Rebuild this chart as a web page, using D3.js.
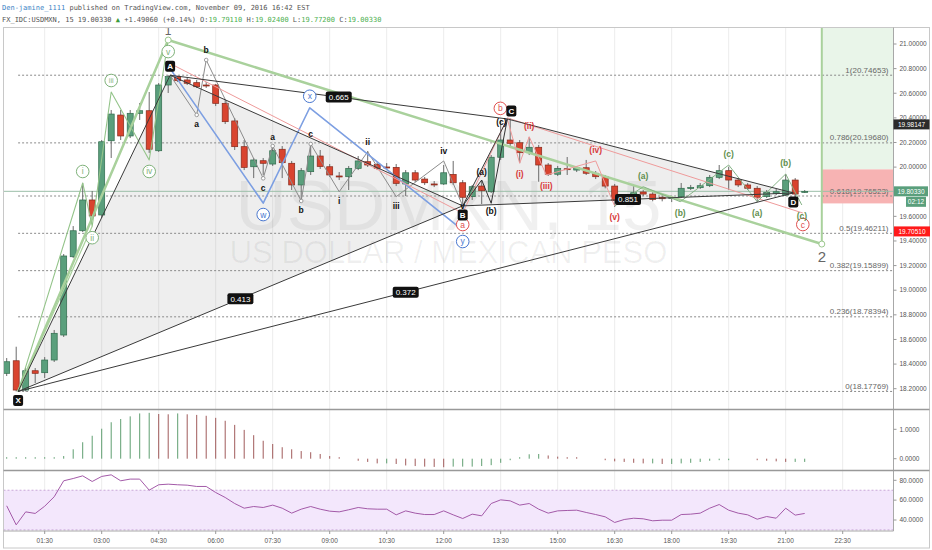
<!DOCTYPE html>
<html><head><meta charset="utf-8">
<script src="https://cdnjs.cloudflare.com/ajax/libs/d3/7.8.5/d3.min.js"></script>
<style>html,body{margin:0;padding:0;background:#fff;}svg{display:block;}text{white-space:pre;}</style>
</head><body>
<svg id="chart" width="932" height="550"></svg>
<script>
// ---------------- DATA ----------------
const timeTickLabels=["01:30","03:00","04:30","06:00","07:30","09:00","10:30","12:00","13:30","15:00","16:30","18:00","19:30","21:00","22:30"];
const timeTickBars=[4,10,16,22,28,34,40,46,52,58,64,70,76,82,88];
const priceTicks=[18.2,18.4,18.6,18.8,19.0,19.2,19.4,19.6,19.8,20.0,20.2,20.4,20.6,20.8,21.0];
const opens=[18.325,18.427,18.189,18.346,18.330,18.433,18.636,19.272,19.483,19.733,19.611,20.214,20.423,20.253,20.437,20.458,20.133,20.667,20.734,20.708,20.686,20.667,20.667,20.518,20.375,20.166,20.003,20.052,20.025,20.145,20.031,19.855,19.963,20.090,20.003,19.928,19.922,19.990,20.044,20.023,20.001,19.998,19.863,19.954,19.903,19.863,19.863,19.941,19.873,19.760,19.846,19.800,20.080,20.220,20.198,20.117,20.161,20.017,19.942,19.987,19.976,19.995,19.950,19.922,19.846,19.719,19.760,19.798,19.781,19.755,19.747,19.760,19.828,19.833,19.849,19.917,19.971,19.895,19.855,19.828,19.760,19.787,19.773,19.895,19.798];
const highs=[18.449,18.541,18.368,18.368,18.457,18.677,19.294,19.521,19.871,19.806,20.220,20.464,20.464,20.464,20.521,20.610,20.683,20.747,20.740,20.724,20.708,20.691,20.675,20.545,20.399,20.220,20.074,20.074,20.171,20.171,20.050,19.993,20.180,20.139,20.025,19.960,20.009,20.090,20.131,20.041,20.033,20.025,19.976,19.976,19.920,19.887,20.017,20.050,19.895,19.855,19.895,20.098,20.380,20.396,20.220,20.244,20.180,20.033,20.009,20.082,20.009,20.058,19.968,19.936,19.863,19.781,19.846,19.814,19.798,19.773,19.765,19.871,19.855,19.871,19.936,20.017,20.003,19.911,19.871,19.846,19.814,19.822,19.944,19.911,19.814];
const lows=[18.303,18.178,18.178,18.246,18.287,18.417,18.620,19.262,19.473,19.570,19.587,20.074,20.220,20.236,20.383,20.115,20.123,20.602,20.691,20.667,20.643,20.643,20.496,20.350,20.139,19.976,19.911,19.936,20.009,19.911,19.814,19.733,19.936,19.985,19.920,19.895,19.814,19.976,20.001,19.976,19.976,19.846,19.765,19.879,19.855,19.838,19.855,19.855,19.684,19.733,19.700,19.790,20.058,20.163,20.033,20.098,19.881,19.928,19.928,19.936,19.960,19.936,19.903,19.828,19.676,19.700,19.749,19.765,19.722,19.722,19.716,19.749,19.814,19.822,19.838,19.903,19.814,19.838,19.814,19.716,19.749,19.773,19.765,19.692,19.790];
const closes=[18.419,18.189,18.346,18.325,18.433,18.650,19.278,19.483,19.733,19.603,20.206,20.431,20.253,20.437,20.458,20.145,20.667,20.735,20.702,20.681,20.653,20.664,20.518,20.369,20.166,19.998,20.058,20.031,20.133,20.036,19.855,19.971,20.090,20.005,19.936,19.926,19.990,20.050,20.017,19.990,20.000,19.868,19.954,19.895,19.873,19.862,19.954,19.873,19.755,19.841,19.808,20.080,20.220,20.193,20.117,20.161,20.017,19.942,19.990,19.986,19.995,19.950,19.922,19.846,19.729,19.765,19.792,19.781,19.738,19.743,19.753,19.828,19.834,19.849,19.917,19.971,19.895,19.855,19.828,19.755,19.795,19.800,19.895,19.781,19.803];
const histValues=[0.01,0.01,0.01,0.01,0.01,0.02,0.09,0.32,0.56,0.78,1.02,1.24,1.35,1.44,1.54,1.56,1.52,1.51,1.54,1.51,1.49,1.46,1.39,1.29,1.15,0.98,0.80,0.61,0.50,0.39,0.32,0.26,0.22,0.16,0.09,0.05,0,-0.07,-0.11,-0.16,-0.16,-0.18,-0.23,-0.25,-0.27,-0.28,-0.29,-0.27,-0.27,-0.27,-0.25,-0.22,-0.14,-0.02,0.02,0.15,0.16,0.11,0.07,0.05,0.02,0,0,-0.05,-0.09,-0.11,-0.14,-0.16,-0.16,-0.18,-0.18,-0.16,-0.14,-0.11,-0.07,-0.05,-0.02,0,0,-0.02,-0.07,-0.09,-0.11,-0.11,-0.11];
const rsiValues=[54.3,35.1,48.2,46.6,53.9,63.4,79.5,81.8,84.5,78.8,83.9,85.5,79.5,81.2,81.2,70.1,75.5,76.1,75.5,75.1,73.8,73.8,67.7,62.7,56.6,51.9,53.6,52.6,55.0,51.9,46.9,50.9,53.6,50.9,48.9,48.2,50.3,52.6,51.3,50.9,50.9,45.2,49.2,46.9,45.5,45.5,49.2,45.2,41.5,45.9,44.2,56.6,60.3,59.3,55.0,56.6,50.9,46.9,49.2,49.6,49.9,47.6,45.5,43.2,37.5,40.5,41.8,41.2,39.2,39.8,39.8,45.5,45.9,46.9,51.9,55.6,49.9,46.9,45.2,40.8,43.5,41.8,51.9,44.9,46.6];
const histTicks=[0,1];
const rsiTicks=[40,60,80];
const fibLevels=[[1,20.74653],[0.786,20.19680],[0.618,19.76523],[0.5,19.46211],[0.382,19.15899],[0.236,18.78394],[0,18.17769]];
// harmonic XABCD pattern (bar index, price)
const harmonic=[{n:"X",i:1.2,p:18.1777,pos:"below"},{n:"A",i:17.2,p:20.7465,pos:"above"},{n:"B",i:48,p:19.685,pos:"below"},{n:"C",i:52.7,p:20.391,pos:"aboveR"},{n:"D",i:82.8,p:19.790,pos:"below"}];
const harmonicRatios=[["X","B","0.413"],["A","C","0.665"],["X","D","0.372"],["B","D","0.851"]];
// Elliott wave drawings
const wavePrimary=[{i:1.2,p:18.1777},{i:17,p:21.032,l:"1",pos:"above"},{i:85.8,p:19.375,l:"2",pos:"below"}];
const waveGreenSub=[{i:1.2,p:18.1777},{i:8,p:19.871,l:"i",pos:"above"},{i:9,p:19.52,l:"ii",pos:"below"},{i:11,p:20.61,l:"iii",pos:"above"},{i:15,p:20.058,l:"iv",pos:"below"},{i:17,p:21.032,l:"v",pos:"below"}];
const waveBlue=[{i:17.2,p:20.80},{i:27,p:19.708,l:"w",pos:"below"},{i:31.9,p:20.482,l:"x",pos:"above"},{i:48,p:19.489,l:"y",pos:"below"}];
const waveGray1=[{i:17.2,p:20.7465},{i:20,p:20.424,l:"a",pos:"below"},{i:21,p:20.870,l:"b",pos:"above"},{i:27,p:19.909,l:"c",pos:"below"}];
const waveGray2=[{i:27,p:19.909},{i:28,p:20.171,l:"a",pos:"above"},{i:31,p:19.725,l:"b",pos:"below"},{i:32,p:20.188,l:"c",pos:"above"}];
const waveGray3=[{i:32,p:20.188},{i:35,p:19.800,l:"i",pos:"below"},{i:38,p:20.125,l:"ii",pos:"above"},{i:41,p:19.760,l:"iii",pos:"below"},{i:46,p:20.050,l:"iv",pos:"above"},{i:48,p:19.685,l:"v",pos:"at"}];
const waveBlackABC=[{i:48,p:19.685},{i:50,p:19.895,l:"(a)",pos:"above"},{i:51,p:19.706,l:"(b)",pos:"below"},{i:52.7,p:20.391,l:"(c)",pos:"left"}];
const waveRedImpulse=[{i:52.7,p:20.391},{i:54,p:20.031,l:"(i)",pos:"below"},{i:55,p:20.247,l:"(ii)",pos:"above"},{i:56.8,p:19.936,l:"(iii)",pos:"below"},{i:62,p:20.050,l:"(iv)",pos:"above"},{i:64,p:19.684,l:"(v)",pos:"below"}];
const waveRedABC=[{i:17.5,p:20.83},{i:48,p:19.627,l:"a",pos:"below"},{i:52.7,p:20.40,l:"b",pos:"aboveL"},{i:83.8,p:19.627,l:"c",pos:"below"}];
const waveGreenABC=[{i:64,p:19.684},{i:67,p:19.841,l:"(a)",pos:"above"},{i:70.9,p:19.719,l:"(b)",pos:"below"},{i:76,p:20.017,l:"(c)",pos:"above"},{i:79,p:19.719,l:"(a)",pos:"below"},{i:82,p:19.944,l:"(b)",pos:"above"},{i:83.7,p:19.692,l:"(c)",pos:"below"}];
const longEntry=19.98147, longStop=19.70510, longStartBar=85.8;
const lastPrice=19.80330, countdown="02:12";
const headerUser="Den-jamine_1111";
const headerLine1=" published on TradingView.com, November 09, 2016 16:42 EST";
const headerLine2=[["FX_IDC:USDMXN, 15 19.00330 ","#555"],["\u25B2","#3a9a3a"],[" +1.49060 (+0.14%) O:","#555"],["19.79110","#4caf50"],[" H:","#555"],["19.02400","#4caf50"],[" L:","#555"],["19.77200","#4caf50"],[" C:","#555"],["19.00330","#4caf50"]];
const watermark1="USDMXN, 15", watermark2="US DOLLAR / MEXICAN PESO";

// ---------------- LAYOUT ----------------
const svg=d3.select('#chart');
const sans='"Liberation Sans", Arial, sans-serif';
const mono='"DejaVu Sans Mono","Liberation Mono",monospace';
const L=3.5,R=893.5,T=27.5,MB=409.5,P1B=470.5,P2B=531,BOT=548,RR=929.5;
const x=d3.scaleLinear().domain([0,88]).range([6.7,842.7]);
const y=d3.scaleLinear().domain([18.2,21]).range([388.7,44]);
const yH=d3.scaleLinear().domain([0,1]).range([458.7,429.3]);
const yR=d3.scaleLinear().domain([40,80]).range([520,480.3]);

svg.append('rect').attr('width',932).attr('height',550).attr('fill','#fff');
const defs=svg.append('defs');
defs.append('clipPath').attr('id','cm').append('rect').attr('x',L).attr('y',T).attr('width',R-L).attr('height',MB-T);
defs.append('clipPath').attr('id','c2').append('rect').attr('x',L).attr('y',P1B).attr('width',R-L).attr('height',P2B-P1B);

// header
const hdr=svg.append('g').attr('font-family',mono).attr('font-size',7);
const t1=hdr.append('text').attr('x',2).attr('y',10);
t1.append('tspan').attr('fill','#3d85c6').text(headerUser);
t1.append('tspan').attr('fill','#555').text(headerLine1);
const t2=hdr.append('text').attr('x',2).attr('y',21.5);
headerLine2.forEach(([s,c])=>t2.append('tspan').attr('fill',c).text(s));

// vertical grid
const grid=svg.append('g');
timeTickBars.forEach(b=>grid.append('line').attr('x1',x(b)).attr('x2',x(b)).attr('y1',T).attr('y2',P2B).attr('stroke','#ececec').attr('stroke-width',1));

const main=svg.append('g').attr('clip-path','url(#cm)');
const cx=(L+R)/2;
main.append('text').attr('x',cx).attr('y',230).attr('text-anchor','middle').attr('font-family',sans).attr('font-size',71).attr('fill','#000').attr('fill-opacity',0.06).text(watermark1);
main.append('text').attr('x',cx).attr('y',263).attr('text-anchor','middle').attr('font-family',sans).attr('font-size',31).attr('fill','#000').attr('fill-opacity',0.06).text(watermark2);

// long position boxes
const xl=x(longStartBar);
main.append('rect').attr('x',xl).attr('y',T).attr('width',R-xl).attr('height',y(longEntry)-T).attr('fill','#e9f5e9');
main.append('rect').attr('x',xl).attr('y',y(longEntry)).attr('width',R-xl).attr('height',y(longStop)-y(longEntry)).attr('fill','#f7b3b3');

// shaded harmonic triangles
const H=Object.fromEntries(harmonic.map(d=>[d.n,d]));
const poly=pts=>pts.map(n=>[x(H[n].i),y(H[n].p)].join(',')).join(' ');
[['X','A','B'],['B','C','D']].forEach(tri=>main.append('polygon').attr('points',poly(tri)).attr('fill','#8a8a8a').attr('fill-opacity',0.14));

// fib levels
const xf=x(H.X.i);
fibLevels.forEach(([r,p])=>{
  main.append('line').attr('x1',xf).attr('x2',R).attr('y1',y(p)).attr('y2',y(p)).attr('stroke','#8a8a8a').attr('stroke-width',1).attr('stroke-dasharray','2,2');
  main.append('text').attr('x',R-5).attr('y',y(p)-2.5).attr('text-anchor','end').attr('font-family',sans).attr('font-size',8).attr('fill','#666').text(`${r}(${p.toFixed(5)})`);
});

// last price line
main.append('line').attr('x1',L).attr('x2',R).attr('y1',y(lastPrice)).attr('y2',y(lastPrice)).attr('stroke','#9bbfa9').attr('stroke-width',1);

// candles
const bars=d3.range(opens.length);
const cg=main.append('g');
bars.forEach(i=>{
  const up=closes[i]>=opens[i];
  cg.append('line').attr('x1',x(i)).attr('x2',x(i)).attr('y1',y(highs[i])).attr('y2',y(lows[i])).attr('stroke','#6b6b6b').attr('stroke-width',1);
  const yt=y(Math.max(opens[i],closes[i])), yb=y(Math.min(opens[i],closes[i]));
  cg.append('rect').attr('x',x(i)-3).attr('y',yt).attr('width',6).attr('height',Math.max(1,yb-yt))
    .attr('fill',up?'#5a9f7c':'#d9442f').attr('stroke',up?'#2f6b4c':'#86291b').attr('stroke-width',0.7);
});

// lines
const ln=d3.line().x(d=>x(d.i)).y(d=>y(d.p));
const path=(data,color,w,op)=>main.append('path').attr('d',ln(data)).attr('fill','none').attr('stroke',color).attr('stroke-width',w).attr('stroke-opacity',op||1).attr('stroke-linejoin','round');
path(wavePrimary,'#a9d19c',2.5);
// extra green fan lines from X
path([waveGreenSub[0],waveGreenSub[2]],'#a9d19c',1.2);
path(waveGreenSub,'#94c48a',1.1);
path(waveGray1,'#8c8c8c',1);
path(waveGray2,'#8c8c8c',1);
path(waveGray3,'#8c8c8c',1);
path(waveBlue,'#7d9fe2',1.6);
path(waveRedABC,'#ee9a9a',1);
path(waveRedImpulse,'#ee9a9a',1);
path(waveGreenABC,'#86b386',1);
path(waveBlackABC,'#333',1);
[['X','A'],['A','B'],['B','C'],['C','D'],['X','B'],['A','C'],['X','D'],['B','D']].forEach(([a,b])=>path([H[a],H[b]],'#3a3a3a',1));
// vertical line of wave 2
const w2=wavePrimary[2];
main.append('line').attr('x1',x(w2.i)).attr('x2',x(w2.i)).attr('y1',T).attr('y2',y(w2.p)).attr('stroke','#a9d19c').attr('stroke-width',2);

// point markers on primary
wavePrimary.slice(1).forEach(d=>main.append('circle').attr('cx',x(d.i)).attr('cy',y(d.p)).attr('r',3).attr('fill','#fff').attr('stroke','#9cc88e').attr('stroke-width',1));
[waveGray1,waveGray2].forEach(w=>w.slice(1).forEach(d=>main.append('circle').attr('cx',x(d.i)).attr('cy',y(d.p)).attr('r',1.8).attr('fill','#fff').attr('stroke','#888').attr('stroke-width',0.8)));

// labels
function place(d,off){
  let px=x(d.i),py=y(d.p);
  if(d.pos==='above')py-=off; else if(d.pos==='below')py+=off;
  else if(d.pos==='aboveL'){py-=off-2;px-=7;}
  else if(d.pos==='aboveR'){py-=off-1;px+=4;}
  else if(d.pos==='left'){px-=6;py+=3;}
  return [px,py];
}
function circleLabels(data,color){
  data.filter(d=>d.l).forEach(d=>{
    const [px,py]=place(d,11.5);
    main.append('circle').attr('cx',px).attr('cy',py).attr('r',6.3).attr('fill','#fff').attr('stroke',color).attr('stroke-width',1);
    main.append('text').attr('x',px).attr('y',py).attr('dy','0.35em').attr('text-anchor','middle').attr('font-family',sans).attr('font-size',d.l.length>2?7:8.5).attr('fill',color).text(d.l);
  });
}
function textLabels(data,color,size,off){
  data.filter(d=>d.l).forEach(d=>{
    const [px,py]=place(d,off);
    main.append('text').attr('x',px).attr('y',py).attr('dy','0.35em').attr('text-anchor','middle').attr('font-family',sans).attr('font-weight','bold').attr('font-size',size).attr('fill',color).text(d.l);
  });
}
circleLabels(waveGreenSub,'#7fb27a');
circleLabels(waveBlue,'#4a78d0');
circleLabels(waveRedABC,'#e05050');
textLabels(waveGray1,'#111',8.5,9.5);
textLabels(waveGray2,'#111',8.5,9.5);
textLabels(waveGray3,'#111',8.5,9.5);
textLabels(waveBlackABC,'#111',8.5,8);
textLabels(waveRedImpulse,'#d83b3b',8.5,11);
textLabels(waveGreenABC,'#5f8f4e',8.5,11);
wavePrimary.slice(1).forEach(d=>{
  const [px,py]=place(d,d.pos==='above'?9:13);
  main.append('text').attr('x',px).attr('y',py).attr('dy','0.35em').attr('text-anchor','middle').attr('font-family',sans).attr('font-size',d.l==='2'?15:12).attr('fill','#666').text(d.l);
});
// harmonic point boxes
harmonic.forEach(d=>{
  const [px,py]=place(d,9);
  main.append('rect').attr('x',px-5).attr('y',py-5.5).attr('width',10).attr('height',11).attr('rx',2).attr('fill','#111');
  main.append('text').attr('x',px).attr('y',py).attr('dy','0.36em').attr('text-anchor','middle').attr('font-family',sans).attr('font-weight','bold').attr('font-size',8).attr('fill','#fff').text(d.n);
});
harmonicRatios.forEach(([a,b,t])=>{
  const mx=(x(H[a].i)+x(H[b].i))/2, my=(y(H[a].p)+y(H[b].p))/2;
  main.append('rect').attr('x',mx-13).attr('y',my-5.5).attr('width',26).attr('height',11).attr('rx',2).attr('fill','#111');
  main.append('text').attr('x',mx).attr('y',my).attr('dy','0.36em').attr('text-anchor','middle').attr('font-family',sans).attr('font-size',8).attr('fill','#fff').text(t);
});

// histogram pane
const hg=svg.append('g');
bars.forEach(i=>{
  const v=histValues[i]; if(v===0)return;
  const prev=i>0?histValues[i-1]:v;
  const col=v>=prev?'#5f9e70':'#a05a5a';
  let y1=yH(0),y2=yH(v); if(Math.abs(y2-y1)<1.5)y2=y1+(v>0?-1.5:1.5);
  hg.append('line').attr('x1',x(i)).attr('x2',x(i)).attr('y1',y1).attr('y2',y2).attr('stroke',col).attr('stroke-width',1);
});

// rsi pane
const rg=svg.append('g').attr('clip-path','url(#c2)');
rg.append('rect').attr('x',L).attr('y',yR(70)).attr('width',R-L).attr('height',yR(30)-yR(70)).attr('fill','#f3e7fc');
[70,30].forEach(v=>rg.append('line').attr('x1',L).attr('x2',R).attr('y1',yR(v)).attr('y2',yR(v)).attr('stroke','#c9a7d9').attr('stroke-dasharray','2,2'));
rg.append('path').attr('d',d3.line().x((d,i)=>x(i)).y(d=>yR(d))(rsiValues)).attr('fill','none').attr('stroke','#a35aa8').attr('stroke-width',1);

// frame & separators
const fr=svg.append('g').attr('stroke','#a8a8a8').attr('fill','none');
fr.append('rect').attr('x',L).attr('y',T).attr('width',RR-L).attr('height',BOT-T).attr('stroke','#c8c8c8');
fr.append('line').attr('x1',R).attr('x2',R).attr('y1',T).attr('y2',P2B);
[MB,P1B].forEach(v=>fr.append('line').attr('x1',L).attr('x2',RR).attr('y1',v).attr('y2',v).attr('stroke','#999').attr('stroke-width',1.3));
fr.append('line').attr('x1',L).attr('x2',R).attr('y1',P2B).attr('y2',P2B);

// price axis
const ax=svg.append('g').attr('font-family',sans).attr('font-size',6.5).attr('fill','#555');
priceTicks.forEach(p=>{
  ax.append('line').attr('x1',R).attr('x2',R+3).attr('y1',y(p)).attr('y2',y(p)).attr('stroke','#999');
  ax.append('text').attr('x',R+6).attr('y',y(p)).attr('dy','0.35em').text(d3.format('.5f')(p));
});
histTicks.forEach(v=>{
  ax.append('line').attr('x1',R).attr('x2',R+3).attr('y1',yH(v)).attr('y2',yH(v)).attr('stroke','#999');
  ax.append('text').attr('x',R+6).attr('y',yH(v)).attr('dy','0.35em').text(d3.format('.4f')(v));
});
rsiTicks.forEach(v=>{
  ax.append('line').attr('x1',R).attr('x2',R+3).attr('y1',yR(v)).attr('y2',yR(v)).attr('stroke','#999');
  ax.append('text').attr('x',R+6).attr('y',yR(v)).attr('dy','0.35em').text(d3.format('.4f')(v));
});
// time axis
timeTickBars.forEach((b,k)=>{
  ax.append('line').attr('x1',x(b)).attr('x2',x(b)).attr('y1',P2B).attr('y2',P2B+3).attr('stroke','#999');
  ax.append('text').attr('x',x(b)).attr('y',541).attr('dy','0.35em').attr('text-anchor','middle').text(timeTickLabels[k]);
});

// price badges
function badge(val,yy,bg,x0,w){
  ax.append('rect').attr('x',x0).attr('y',yy-5).attr('width',w).attr('height',10).attr('fill',bg);
  ax.append('text').attr('x',x0+w/2).attr('y',yy).attr('dy','0.35em').attr('text-anchor','middle').attr('fill','#fff').text(val);
}
badge(d3.format('.5f')(longEntry),y(longEntry)-45,'#2b2b2b',R,36);
badge(d3.format('.5f')(lastPrice),y(lastPrice),'#5a9f7c',R+0.5,34);
badge(countdown,y(lastPrice)+10.5,'#5a9f7c',R+12.5,20);
badge(d3.format('.5f')(longStop),y(longStop)+28,'#ff1a1a',R+0.5,36);
</script>
</body></html>
